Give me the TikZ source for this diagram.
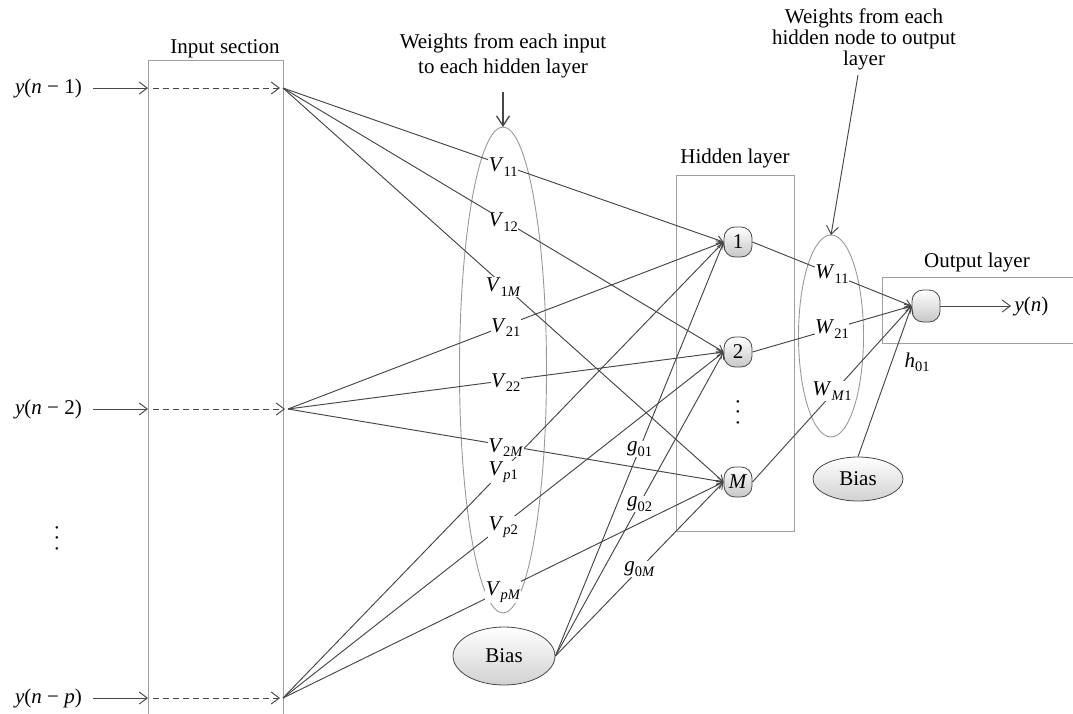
\documentclass[tikz,border=0pt]{standalone}
\usepackage{fontspec}
\setmainfont{Liberation Serif}
\usetikzlibrary{arrows.meta,shapes.geometric}
\definecolor{lc}{HTML}{474747}
\definecolor{bc}{HTML}{A0A0A0}
\definecolor{ec}{HTML}{999999}
\newcommand\sbx[1]{\raisebox{-0.45ex}{\fontsize{14.5}{14.5}\selectfont #1}}
\newcommand\vv[2]{\textit{#1}\sbx{#2}}
\newcommand\vdts{\rotatebox{90}{.\kern5.2pt.\kern5.2pt.}}
\begin{document}
\begin{tikzpicture}[x=1pt,y=-1pt,
  every node/.style={font=\fontsize{21}{24}\selectfont},
  conn/.style={draw=lc, line width=0.95pt, -{Straight Barb[length=6pt,width=8pt]}},
  bigarrow/.style={draw=lc, line width=0.95pt, -{Straight Barb[length=8pt,width=12pt]}},
  wl/.style={fill=white, inner sep=0.5pt},
  box/.style={draw=bc, line width=1pt},
  hnode/.style={rectangle, draw=lc, line width=0.8pt, rounded corners=11pt, minimum width=28pt, minimum height=30pt, inner sep=0pt, top color=white, bottom color=black!22},
  bias/.style={ellipse, draw=lc, line width=0.8pt, top color=white, bottom color=black!18, inner sep=0pt},
  wellip/.style={ellipse, draw=ec, line width=0.9pt, inner sep=0pt, outer sep=0pt},
]
\useasboundingbox (0,0) rectangle (1073,713);

% ---------- input section ----------
\draw[box] (148,720) -- (148,60) -- (283,60) -- (283,720);
\node[anchor=base] (lis) at (225,53) {Input section};

\node[anchor=east, inner sep=0pt] (in1) at (82,88) {\textit{y}(\textit{n} − 1)};
\node[anchor=east, inner sep=0pt] (in2) at (82,409) {\textit{y}(\textit{n} − 2)};
\node[anchor=east, inner sep=0pt] (inp) at (82,698) {\textit{y}(\textit{n} − \textit{p})};
\node[inner sep=0pt] (vdl) at (57,538) {\vdts};

\coordinate (bl1) at (148,88);
\coordinate (bl2) at (148,409);
\coordinate (blp) at (148,698);
\coordinate (f1) at (283,88);
\coordinate (f2) at (288,409);
\coordinate (fp) at (283,698);

\draw[bigarrow, shorten <=11pt] (in1.east) -- (bl1);
\draw[bigarrow, shorten <=11pt] (in2.east) -- (bl2);
\draw[bigarrow, shorten <=11pt] (inp.east) -- (blp);
\draw[bigarrow, dash pattern=on 6pt off 4pt, shorten <=5pt, shorten >=3pt] (bl1) -- (f1);
\draw[bigarrow, dash pattern=on 6pt off 4pt, shorten <=5pt, shorten >=3pt] (bl2) -- (f2);
\draw[bigarrow, dash pattern=on 6pt off 4pt, shorten <=5pt, shorten >=3pt] (blp) -- (fp);

% ---------- weight ellipses ----------
\node[wellip, minimum width=87pt, minimum height=486pt] (ve) at (503,370) {};
\node[wellip, minimum width=65pt, minimum height=202pt] (we) at (831,336) {};

\node[align=center, font=\fontsize{21}{25}\selectfont] (wa) at (503,56) {Weights from each input\\to each hidden layer};
\draw[draw=lc, line width=1.3pt, -{Straight Barb[length=10pt,width=13pt]}, shorten <=10pt] (wa.south) -- (ve.north);

\node[align=center, font=\fontsize{21}{21}\selectfont] (wo) at (864,39) {Weights from each\\hidden node to output\\layer};
\coordinate (wo1) at (858,75);
\draw[bigarrow] (wo1) -- (we.north);

% ---------- hidden layer ----------
\draw[box] (676,175) rectangle (794,531);
\node[anchor=base] (lhl) at (735,163) {Hidden layer};
\node[hnode] (h1) at (738,242) {1};
\node[hnode] (h2) at (738,352) {2};
\node[hnode] (hM) at (738,482) {\textit{M}};
\node[inner sep=0pt] (vdh) at (738,412) {\vdts};

\node[bias, minimum width=102pt, minimum height=58pt] (bh) at (504,656) {Bias};

% ---------- output layer ----------
\draw[box] (1080,277) -- (882,277) -- (882,343) -- (1080,343);
\node[anchor=base] (lol) at (977,267) {Output layer};
\node[hnode, minimum height=32pt] (on) at (926,306) {};
\node[anchor=west] (yn) at (1011,306) {\textit{y}(\textit{n})};
\draw[bigarrow] (on.east) -- (yn.west);
\node[bias, minimum width=90pt, minimum height=44pt] (bo) at (858,479) {Bias};

% ---------- connections ----------
\draw[conn] (f1) -- coordinate[midway] (m11) (h1.west);
\draw[conn] (f1) -- coordinate[midway] (m12) (h2.west);
\draw[conn] (f1) -- coordinate[midway] (m1M) (hM.west);
\draw[conn] (f2) -- coordinate[midway] (m21) (h1.west);
\draw[conn] (f2) -- coordinate[midway] (m22) (h2.west);
\draw[conn] (f2) -- coordinate[midway] (m2M) (hM.west);
\draw[conn] (fp) -- coordinate[midway] (mp1) (h1.west);
\draw[conn] (fp) -- coordinate[midway] (mp2) (h2.west);
\draw[conn] (fp) -- coordinate[midway] (mpM) (hM.west);

\draw[conn] (bh.east) -- coordinate[midway] (g1) (h1.west);
\draw[conn] (bh.east) -- coordinate[midway] (g2) (h2.west);
\draw[conn] (bh.east) -- coordinate[midway] (gM) (hM.west);

\draw[conn] (h1.east) -- coordinate[midway] (w1) (on.west);
\draw[conn] (h2.east) -- coordinate[midway] (w2) (on.west);
\draw[conn] (hM.east) -- coordinate[midway] (wM) (on.west);
\draw[conn] (bo.north) -- (on.west);

% ---------- weight labels ----------
\node[wl, yshift=-2pt] (lV11) at (m11) {\vv{V}{11}};
\node[wl, yshift=-2pt] (lV12) at (m12) {\vv{V}{12}};
\node[wl, yshift=-2pt] (lV1M) at (m1M) {\vv{V}{1\textit{M}}};
\node[wl, yshift=-2pt] (lV21) at (m21) {\vv{V}{21}};
\node[wl, yshift=-2pt] (lV22) at (m22) {\vv{V}{22}};
\node[wl, yshift=-2pt] (lV2M) at (m2M) {\vv{V}{2\textit{M}}};
\node[wl, yshift=-2pt] (lVp1) at (mp1) {\vv{V}{\textit{p}1}};
\node[wl, yshift=-2pt] (lVp2) at (mp2) {\vv{V}{\textit{p}2}};
\node[wl, yshift=-2pt] (lVpM) at (mpM) {\vv{V}{\textit{p}\textit{M}}};

\node[wl] (lg1) at (g1) {\vv{g}{01}};
\node[wl] (lg2) at (g2) {\vv{g}{02}};
\node[wl] (lgM) at (gM) {\vv{g}{0\textit{M}}};

\node[wl] (lW1) at (w1) {\vv{W}{11}};
\node[wl] (lW2) at (w2) {\vv{W}{21}};
\node[wl, yshift=3pt] (lWM) at (wM) {\vv{W}{\textit{M}1}};
\node (lh01) at (917,362) {\vv{h}{01}};
\end{tikzpicture}
\end{document}
